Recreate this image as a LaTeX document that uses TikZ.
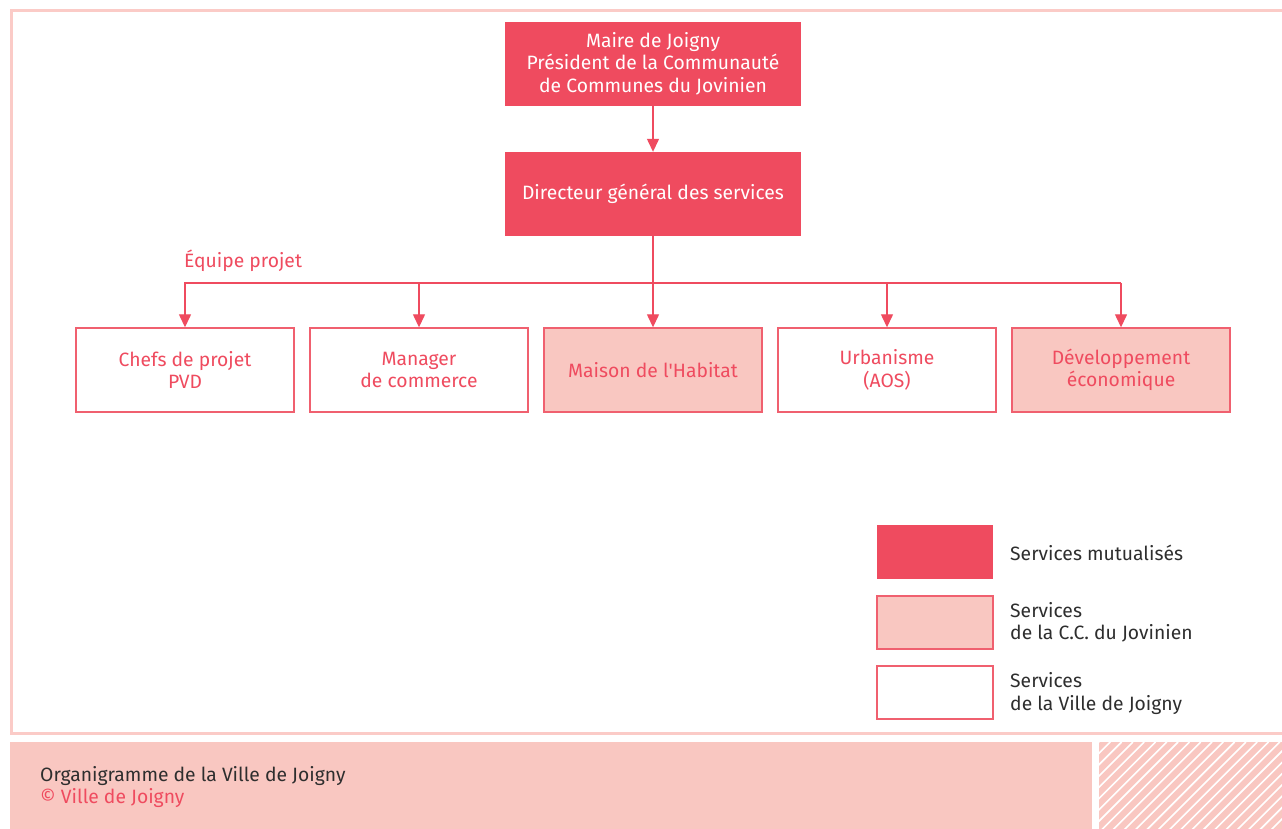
\documentclass[tikz,border=0pt]{standalone}
\usepackage{fontspec}
\setmainfont{Fira Sans}
\usetikzlibrary{arrows.meta}
\definecolor{mred}{HTML}{EF4B5F}
\definecolor{lpink}{HTML}{F9C7C1}
\definecolor{framec}{HTML}{FBCBC7}
\definecolor{dtext}{HTML}{2E2E2E}
\definecolor{bstroke}{HTML}{F0606F}
\begin{document}
\begin{tikzpicture}[x=1pt,y=-1pt,
  txt/.style={font=\fontsize{19.3}{22.5}\selectfont},
  topbox/.style={txt,fill=mred,text=white,minimum width=296pt,minimum height=84pt,inner sep=0pt,align=center},
  citybox/.style={txt,draw=bstroke,line width=1.4pt,fill=white,text=mred,minimum width=218pt,minimum height=84pt,inner sep=0pt,align=center},
  ccbox/.style={citybox,fill=lpink},
  arr/.style={draw=mred,line width=1.3pt,-{Triangle[length=13pt,width=12pt]}},
  ln/.style={draw=mred,line width=1.3pt},
  legtxt/.style={txt,text=dtext,anchor=west,align=left,inner sep=0pt},
]
\useasboundingbox (0,0) rectangle (1282,828);
\clip (0,0) rectangle (1282,828);
\fill[white] (0,0) rectangle (1282,828);
% outer frame
\draw[framec,line width=3pt] (11.5,10.5) rectangle (1295,733);
% footer
\fill[lpink] (10,742) rectangle (1092,830);
\fill[lpink] (1099,742) rectangle (1284,830);
\begin{scope}
\clip (1099,742) rectangle (1284,830);
\foreach \i in {0,...,30}{
  \draw[white,line width=1.6pt] ({1099+\i*11.3-100},842) -- ({1099+\i*11.3},742);
}
\end{scope}
\node[txt,text=dtext,anchor=base west,inner sep=0pt] (foot1) at (40,781) {Organigramme de la Ville de Joigny};
\node[txt,text=mred,anchor=base west,inner sep=0pt] (foot2) at (40,803) {© Ville de Joigny};
% top boxes
\node[topbox] (maire) at (653,63.5) {Maire de Joigny\\Président de la Communauté\\de Communes du Jovinien};
\node[topbox] (dg) at (653,194) {Directeur général des services};
\draw[arr] (maire) -- (dg);
% services
\node[citybox] (b1) at (185,370) {Chefs de projet\\PVD};
\node[citybox] (b2) at (419,370) {Manager\\de commerce};
\node[ccbox] (b3) at (653,370) {Maison de l\textquotesingle Habitat};
\node[citybox] (b4) at (887,370) {Urbanisme\\(AOS)};
\node[ccbox] (b5) at (1121,370) {Développement\\économique};
\coordinate (bus) at (653,283);
\coordinate (busl) at (184,283);
\coordinate (busr) at (1121,283);
\draw[ln] (dg) -- (bus);
\draw[ln] (busl) -- (busr);
\foreach \b in {b1,b2,b3,b4,b5}{
  \draw[arr] (\b.north |- bus) -- (\b.north);
}
\node[txt,text=mred,anchor=base west,inner sep=0pt] (equipe) at (184,267) {Équipe projet};
% legend
\node[fill=mred,minimum width=116pt,minimum height=54pt,inner sep=0pt] (l1) at (935,552) {};
\node[fill=lpink,draw=bstroke,line width=1.4pt,minimum width=116pt,minimum height=53pt,inner sep=0pt] (l2) at (935,622.5) {};
\node[fill=white,draw=bstroke,line width=1.4pt,minimum width=116pt,minimum height=53pt,inner sep=0pt] (l3) at (935,692.5) {};
\node[legtxt] (t1) at (1010,553) {Services mutualisés};
\node[legtxt] (t2) at (1010,622.5) {Services\\de la C.C. du Jovinien};
\node[legtxt] (t3) at (1010,693.5) {Services\\de la Ville de Joigny};
\end{tikzpicture}
\end{document}
